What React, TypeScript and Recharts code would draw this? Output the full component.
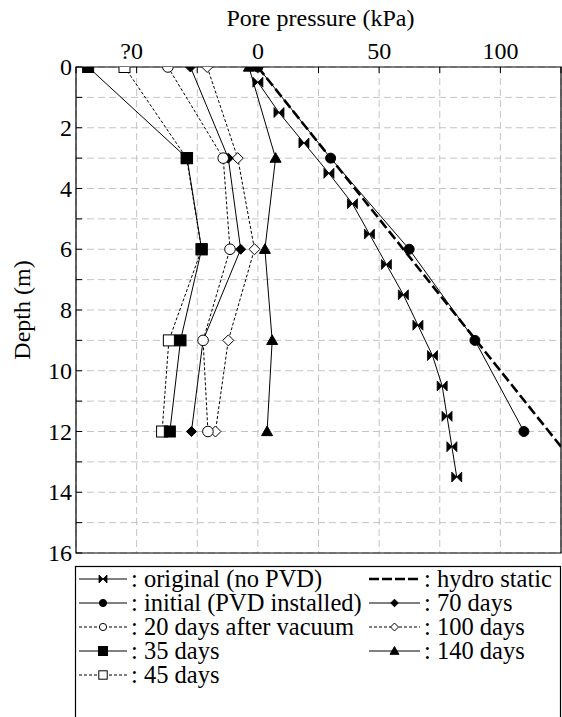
import React from 'react';
import { LineChart, Line, XAxis, YAxis, CartesianGrid, ReferenceArea, Label } from 'recharts';

// ---------- data ----------
const mainDepths = [0, 3, 6, 9, 12];
const originalDepths = [0.5, 1.5, 2.5, 3.5, 4.5, 5.5, 6.5, 7.5, 8.5, 9.5, 10.5, 11.5, 12.5, 13.5];
const originalPressure = [0, 8.7, 19, 29.3, 39, 46, 53, 60, 66, 72, 76, 78, 80, 82];
const hydroDepths = [0, 12.5];
const hydroPressure = [0, 125];
const initialPressure = [0, 30, 62.4, 89.5, 109.7];
const days20Pressure = [-37.1, -14.3, -11.5, -22.6, -20.6];
const days35Pressure = [-70, -29.2, -23.2, -31.9, -36.3];
const days45Pressure = [-55, -29.4, -23.2, -36.7, -39.5];
const days70Pressure = [-27.8, -12.2, -7.1, -22.6, -27.4];
const days100Pressure = [-20.9, -8.3, -1.4, -12.2, -17.5];
const days140Pressure = [-3.7, 7.3, 2.9, 5.9, 3.8];

const xTicks = [-75, -50, -25, 0, 25, 50, 75, 100, 125];
const xTickLabels: Record<number, string> = { [-50]: '?0', 0: '0', 50: '50', 100: '100' };
const yTicks = [0, 1, 2, 3, 4, 5, 6, 7, 8, 9, 10, 11, 12, 13, 14, 15, 16];
const yTickLabels = ['0', '2', '4', '6', '8', '10', '12', '14', '16'];

const toRows = (depths: number[], pressures: number[]) =>
  depths.map((d, i) => ({ d, p: pressures[i] }));

const FONT = "'Liberation Serif', 'DejaVu Serif', serif";
const TXT: React.CSSProperties = { fontFamily: FONT };
const AXFS = 24;
const LEGFS = 24.5;

// ---------- markers ----------
type MK = 'bowtie' | 'circle' | 'ocircle' | 'diamond' | 'odiamond' | 'square' | 'osquare' | 'triangle';

const markerShape = (kind: MK, cx: number, cy: number, s: number, key?: any) => {
  const fillB = '#000';
  const fillW = '#fff';
  switch (kind) {
    case 'bowtie':
      return (
        <path key={key} d={`M${cx - s},${cy - s}L${cx},${cy}L${cx - s},${cy + s}ZM${cx + s},${cy - s}L${cx},${cy}L${cx + s},${cy + s}Z`}
          fill={fillB} stroke="#000" strokeWidth={0.8} />
      );
    case 'circle':
      return <circle key={key} cx={cx} cy={cy} r={s} fill={fillB} stroke="#000" strokeWidth={1} />;
    case 'ocircle':
      return <circle key={key} cx={cx} cy={cy} r={s} fill={fillW} stroke="#000" strokeWidth={1} />;
    case 'diamond':
      return <path key={key} d={`M${cx},${cy - s}L${cx + s},${cy}L${cx},${cy + s}L${cx - s},${cy}Z`} fill={fillB} stroke="#000" strokeWidth={1} />;
    case 'odiamond':
      return <path key={key} d={`M${cx},${cy - s}L${cx + s},${cy}L${cx},${cy + s}L${cx - s},${cy}Z`} fill={fillW} stroke="#000" strokeWidth={1} />;
    case 'square':
      return <rect key={key} x={cx - s} y={cy - s} width={2 * s} height={2 * s} fill={fillB} stroke="#000" strokeWidth={1} />;
    case 'osquare':
      return <rect key={key} x={cx - s} y={cy - s} width={2 * s} height={2 * s} fill={fillW} stroke="#000" strokeWidth={1} />;
    case 'triangle':
      return <path key={key} d={`M${cx},${cy - s}L${cx + s},${cy + s * 0.75}L${cx - s},${cy + s * 0.75}Z`} fill={fillB} stroke="#000" strokeWidth={1} />;
  }
};

const dotOf = (kind: MK, s: number) => (props: any) => {
  const { cx, cy, index } = props;
  if (cx == null || cy == null) return <g key={`e${index}`} />;
  return markerShape(kind, cx, cy, s, `${kind}-${index}`);
};

// ---------- ticks ----------
const TOP_MARGIN = 8;
const TopTick = (props: any) => {
  const { x, y, payload } = props;
  const v = payload.value;
  const lab = xTickLabels[v];
  const ay = y + TOP_MARGIN;
  return (
    <g>
      <line x1={x} x2={x} y1={ay} y2={ay + 6} stroke="#000" strokeWidth={1} />
      {lab !== undefined && (
        <text x={v === -50 ? x - 5 : x} y={ay - 8} textAnchor="middle" style={TXT} fontSize={AXFS} fill="#000">
          {lab}
        </text>
      )}
    </g>
  );
};

const LEFT_MARGIN = 4;
const LeftTick = (props: any) => {
  const { x, y, payload } = props;
  const v = payload.value;
  const ax = x + LEFT_MARGIN;
  const lab = v % 2 === 0 ? yTickLabels[v / 2] : undefined;
  return (
    <g>
      <line x1={ax} x2={ax + 6} y1={y} y2={y} stroke="#000" strokeWidth={1} />
      {lab !== undefined && (
        <text x={x} y={y} dy="0.34em" textAnchor="end" style={TXT} fontSize={AXFS} fill="#000">
          {lab}
        </text>
      )}
    </g>
  );
};

const RightTick = (props: any) => {
  const { x, y } = props;
  return <line x1={x - 6} x2={x} y1={y} y2={y} stroke="#000" strokeWidth={1} />;
};

// ---------- legend ----------
type LegItem = { label: string; kind: MK | null; dash?: string; thick?: boolean };
const legendCol1: LegItem[] = [
  { label: ': original (no PVD)', kind: 'bowtie' },
  { label: ': initial (PVD installed)', kind: 'circle' },
  { label: ': 20 days after vacuum', kind: 'ocircle', dash: '3 2' },
  { label: ': 35 days', kind: 'square' },
  { label: ': 45 days', kind: 'osquare', dash: '3 2' },
];
const legendCol2: LegItem[] = [
  { label: ': hydro static', kind: null, dash: '10 3', thick: true },
  { label: ': 70 days', kind: 'diamond' },
  { label: ': 100 days', kind: 'odiamond', dash: '3 2' },
  { label: ': 140 days', kind: 'triangle' },
];

const LegendBox = () => {
  const top = 579;
  const step = 24;
  const renderItem = (it: LegItem, i: number, x0: number, x1: number) => {
    const cy = top + i * step;
    const mid = (x0 + x1) / 2;
    const sizes: Record<string, number> = {
      bowtie: 4, circle: 3.6, ocircle: 3.6, diamond: 3.8, odiamond: 4, square: 4.5, osquare: 4.2, triangle: 4.4,
    };
    return (
      <g key={it.label}>
        <line x1={x0} x2={x1} y1={cy} y2={cy} stroke="#000" strokeWidth={it.thick ? 2.6 : 1} strokeDasharray={it.dash} />
        {it.kind && markerShape(it.kind, mid, cy, sizes[it.kind])}
        <text x={x1 + 4} y={cy} dy="0.34em" style={TXT} fontSize={LEGFS} fill="#000">
          {it.label}
        </text>
      </g>
    );
  };
  return (
    <svg width={562} height={717} style={{ position: 'absolute', left: 0, top: 0, pointerEvents: 'none' }}>
      <rect x={75.5} y={566.5} width={485} height={200} fill="#fff" stroke="#000" strokeWidth={1.2} />
      {legendCol1.map((it, i) => renderItem(it, i, 79, 127))}
      {legendCol2.map((it, i) => renderItem(it, i, 369, 420))}
    </svg>
  );
};

// ---------- chart ----------
export default function App() {
  const solid = { stroke: '#000', strokeWidth: 1, isAnimationActive: false, dataKey: 'd' } as const;
  return (
    <div style={{ position: 'absolute', left: 0, top: 0, width: 562, height: 717, background: '#fff', fontFamily: FONT }}>
      <LineChart width={562} height={717} margin={{ top: 0, right: 1, bottom: 164, left: 0 }} style={{ fontFamily: FONT }}>
        <CartesianGrid stroke="#c4c4c4" strokeDasharray="7 4" />
        <XAxis
          type="number"
          dataKey="p"
          orientation="top"
          domain={[-75, 125]}
          ticks={xTicks}
          allowDataOverflow
          height={67}
          tickSize={0}
          tickMargin={TOP_MARGIN}
          tick={<TopTick />}
          axisLine={false}
          tickLine={false}
          interval={0}
        >
          <Label
            content={(p: any) => {
              const vb = p.viewBox;
              return (
                <text x={vb.x + vb.width / 2 + 2} y={26} textAnchor="middle" style={TXT} fontSize={AXFS} fill="#000">
                  Pore pressure (kPa)
                </text>
              );
            }}
          />
        </XAxis>
        <YAxis
          type="number"
          dataKey="d"
          domain={[0, 16]}
          reversed
          ticks={yTicks}
          allowDataOverflow
          width={76}
          tickSize={0}
          tickMargin={LEFT_MARGIN}
          tick={<LeftTick />}
          axisLine={false}
          tickLine={false}
          interval={0}
        >
          <Label
            content={(p: any) => {
              const vb = p.viewBox;
              const cy = vb.y + vb.height / 2;
              return (
                <text x={22} y={cy} transform={`rotate(-90 22 ${cy})`} dy="0.34em" textAnchor="middle" style={TXT} fontSize={AXFS} fill="#000">
                  Depth (m)
                </text>
              );
            }}
          />
        </YAxis>
        <YAxis
          yAxisId="right"
          orientation="right"
          type="number"
          domain={[0, 16]}
          reversed
          ticks={yTicks}
          width={0}
          tickSize={0}
          tickMargin={0}
          tick={<RightTick />}
          axisLine={false}
          tickLine={false}
          interval={0}
        />
        <ReferenceArea x1={-75} x2={125} y1={0} y2={16} fill="none" fillOpacity={0} stroke="#000" strokeWidth={1.2} ifOverflow="visible" />

        <Line {...solid} data={toRows(hydroDepths, hydroPressure)} strokeWidth={2.6} strokeDasharray="10 4" dot={false} name="hydro static" />
        <Line {...solid} data={toRows(originalDepths, originalPressure)} dot={dotOf('bowtie', 5)} name="original (no PVD)" />
        <Line {...solid} data={toRows(mainDepths, initialPressure)} dot={dotOf('circle', 5)} name="initial (PVD installed)" />
        <Line {...solid} data={toRows(mainDepths, days140Pressure)} dot={dotOf('triangle', 5.5)} name="140 days" />
        <Line {...solid} data={toRows(mainDepths, days100Pressure)} strokeDasharray="3 2" dot={dotOf('odiamond', 5.5)} name="100 days" />
        <Line {...solid} data={toRows(mainDepths, days70Pressure)} dot={dotOf('diamond', 5)} name="70 days" />
        <Line {...solid} data={toRows(mainDepths, days20Pressure)} strokeDasharray="3 2" dot={dotOf('ocircle', 5.3)} name="20 days after vacuum" />
        <Line {...solid} data={toRows(mainDepths, days45Pressure)} strokeDasharray="3 2" dot={dotOf('osquare', 5.5)} name="45 days" />
        <Line {...solid} data={toRows(mainDepths, days35Pressure)} dot={dotOf('square', 5.5)} name="35 days" />
      </LineChart>
      <LegendBox />
    </div>
  );
}
